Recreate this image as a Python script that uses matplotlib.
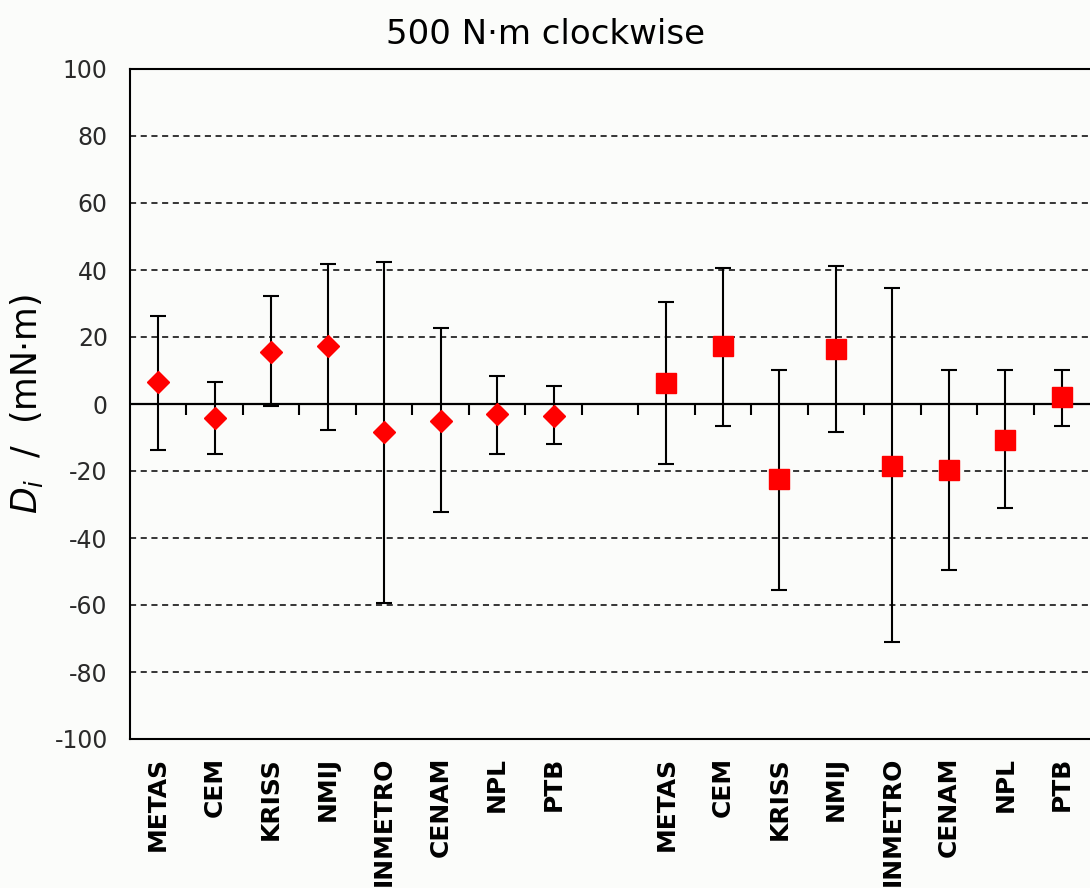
import matplotlib.pyplot as plt
import numpy as np

plt.rcParams['axes.unicode_minus'] = False

# Лаборатории и значения Di (мН·м), с границами неопределённости
labs = ['METAS', 'CEM', 'KRISS', 'NMIJ', 'INMETRO', 'CENAM', 'NPL', 'PTB']

d1 = np.array([6.5, -4.3, 15.4, 17.2, -8.5, -5.0, -3.0, -3.5])
hi1 = np.array([26.2, 6.5, 32.3, 41.7, 42.3, 22.6, 8.3, 5.3])
lo1 = np.array([-13.7, -14.9, -0.5, -7.8, -59.4, -32.3, -14.9, -11.9])

d2 = np.array([6.3, 17.4, -22.4, 16.4, -18.4, -19.6, -10.6, 2.0])
hi2 = np.array([30.4, 40.5, 10.1, 41.1, 34.5, 10.1, 10.1, 10.1])
lo2 = np.array([-17.9, -6.5, -55.6, -8.5, -71.1, -49.7, -31.0, -6.5])

# Позиции: две группы по 8 с пропуском одной позиции
x1 = np.arange(1, 9)
x2 = np.arange(10, 18)

bg = '#fbfcfa'
fig = plt.figure(figsize=(10.9, 8.88), dpi=100, facecolor=bg)
ax = fig.add_axes([130 / 1090, 1 - 739 / 888, 1 - 130 / 1090, (739 - 69) / 888])
ax.set_facecolor(bg)

ax.set_xlim(0.5, 17.5)
ax.set_ylim(-100, 100)
ax.set_yticks(np.arange(-100, 101, 20))

# Сетка пунктиром (без нуля)
for y in np.arange(-80, 81, 20):
    if y != 0:
        ax.axhline(y, color='k', lw=1.1, linestyle=(0, (4, 3)), zorder=1)

# Линия нуля с рисками между лабораториями
ax.axhline(0, color='k', lw=1.6, zorder=2)
mids = np.arange(1.5, 17, 1)
ax.plot(mids, np.zeros_like(mids), linestyle='none', marker=3, markersize=8,
        markeredgewidth=1.5, color='k', zorder=2)

# Погрешности
ax.errorbar(x1, d1, yerr=[d1 - lo1, hi1 - d1], fmt='none', ecolor='k',
            elinewidth=1.5, capsize=6, capthick=1.5, zorder=3)
ax.errorbar(x2, d2, yerr=[d2 - lo2, hi2 - d2], fmt='none', ecolor='k',
            elinewidth=1.5, capsize=6, capthick=1.5, zorder=3)

# Точки
ax.plot(x1, d1, linestyle='none', marker='D', markersize=11, color='#ff0000', zorder=4)
ax.plot(x2, d2, linestyle='none', marker='s', markersize=14, color='#ff0000', zorder=4)

ax.set_xticks(np.concatenate([x1, x2]))
ax.set_xticklabels(labs + labs, rotation=90, fontsize=18, fontweight='bold')
ax.tick_params(axis='x', length=0, pad=13)
ax.tick_params(axis='y', length=0, pad=16, labelsize=17, labelcolor='#2a2a2a')

for s in ['left', 'top', 'bottom']:
    ax.spines[s].set_linewidth(1.5)
ax.spines['right'].set_visible(False)

ax.set_ylabel(r'$D_i$  /  (mN·m)', fontsize=25)
ax.yaxis.set_label_coords(-85 / 960, 0.5)

fig.text(0.5, 1 - 35 / 888, '500 N·m clockwise', ha='center', va='center', fontsize=24.5)

fig.savefig('out.png', dpi=100, facecolor=bg)
